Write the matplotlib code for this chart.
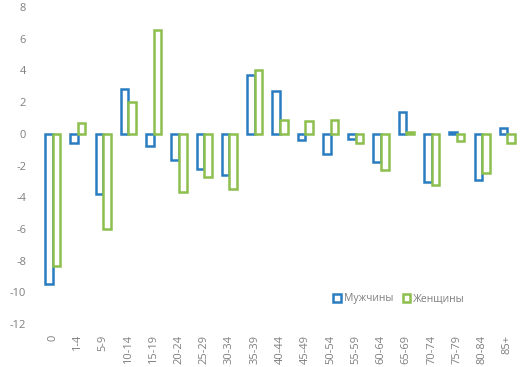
import matplotlib
matplotlib.use("Agg")
import matplotlib.pyplot as plt
import numpy as np
from matplotlib.patches import Patch

categories = ["0", "1-4", "5-9", "10-14", "15-19", "20-24", "25-29", "30-34", "35-39",
              "40-44", "45-49", "50-54", "55-59", "60-64", "65-69", "70-74", "75-79",
              "80-84", "85+"]
men = [-9.5, -0.6, -3.8, 2.8, -0.75, -1.65, -2.2, -2.6, 3.7, 2.7, -0.4, -1.25, -0.3,
       -1.8, 1.35, -3.05, 0.1, -2.9, 0.35]
women = [-8.35, 0.65, -6.0, 2.0, 6.55, -3.7, -2.7, -3.5, 4.0, 0.85, 0.8, 0.85, -0.55,
         -2.3, 0.1, -3.2, -0.45, -2.5, -0.6]

blue = "#2A7CC0"
green = "#8DBF4F"
gray = "#7F7F7F"

plt.rcParams['font.family'] = ['Open Sans', 'DejaVu Sans']
plt.rcParams['axes.unicode_minus'] = False

fig = plt.figure(figsize=(5.32, 3.67), dpi=100)
ax = fig.add_axes([40/532, 1-324/367, (520-40)/532, (324-7)/367])

x = np.arange(len(categories))
w = 0.3
ax.bar(x - w/2, men, w, facecolor="white", edgecolor=blue, linewidth=1.8, label="Мужчины")
ax.bar(x + w/2, women, w, facecolor="white", edgecolor=green, linewidth=1.8, label="Женщины")

ax.set_xlim(-0.5, len(categories) - 0.5)
ax.set_ylim(-12, 8)
ax.set_yticks(np.arange(-12, 9, 2))
ax.set_xticks(x)
ax.set_xticklabels(categories, rotation=90)
for s in ax.spines.values():
    s.set_visible(False)
ax.tick_params(axis='both', length=0, colors=gray, labelsize=8)
ax.tick_params(axis='y', pad=10)
ax.tick_params(axis='x', pad=8)

handles = [Patch(facecolor="white", edgecolor=blue, linewidth=1.8, label="Мужчины"),
           Patch(facecolor="white", edgecolor=green, linewidth=1.8, label="Женщины")]
leg = fig.legend(handles=handles, loc="center", bbox_to_anchor=(399/532, 1-299/367),
                 ncol=2, frameon=False, fontsize=7.5, handlelength=0.7, handleheight=0.7,
                 handletextpad=0.3, columnspacing=0.9)
for t in leg.get_texts():
    t.set_color(gray)

fig.savefig("out.png", dpi=100)
